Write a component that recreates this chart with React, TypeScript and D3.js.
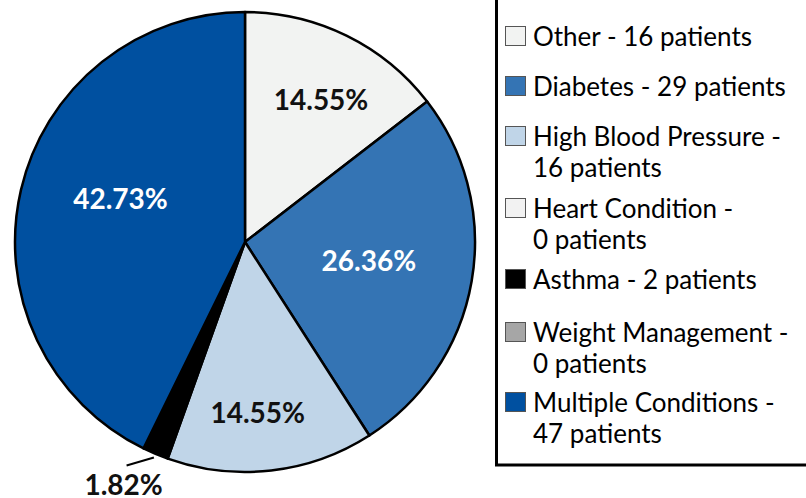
import React from "react";
import * as d3 from "d3";

const categories = [
  "Other",
  "Diabetes",
  "High Blood Pressure",
  "Heart Condition",
  "Asthma",
  "Weight Management",
  "Multiple Conditions",
];
const patients = [16, 29, 16, 0, 2, 0, 47];
const colors = ["#f2f3f2", "#3474b4", "#c0d5e8", "#f2f2f2", "#000000", "#a6a6a6", "#0050a0"];
const labelColors = ["#111", "#fff", "#111", "#111", "#111", "#111", "#fff"];
// legend wrap: whether "N patients" goes on a second line
const legendWrap = [false, false, true, true, false, true, true];

// label placement styles (radius fraction, angle offset in degrees)
const labelRadius = [0.7, 0.545, 0.745, 0, 0, 0, 0.573];
const labelAngleOffset = [2, -1.1, 2.3, 0, 0, 0, 6];

const W = 806;
const H = 498;
const cx = 245;
const cy = 242;
const R = 230;
const FONT = "Lato, 'Open Sans', sans-serif";

export default function App() {
  const total = d3.sum(patients);
  const pie = d3
    .pie<number>()
    .sort(null)
    .value((d) => d);
  const arcs = pie(patients);
  const arc = d3.arc<d3.PieArcDatum<number>>().innerRadius(0).outerRadius(R);
  const fmt = d3.format(".2%");

  const legendRows: { y: number; idx: number; lines: string[] }[] = [];
  const legendBaselines = [46, 96, 146, 218, 289, 342, 412];
  categories.forEach((c, i) => {
    const lines = legendWrap[i]
      ? [`${c} -`, `${patients[i]} patients`]
      : [`${c} - ${patients[i]} patients`];
    legendRows.push({ y: legendBaselines[i], idx: i, lines });
  });

  return (
    <svg
      width={W}
      height={H}
      style={{ position: "absolute", left: 0, top: 0, display: "block", background: "#fff" }}
      fontFamily={FONT}
    >
      <g transform={`translate(${cx},${cy})`}>
        {arcs.map((a, i) =>
          a.value > 0 ? (
            <path
              key={i}
              d={arc(a) || ""}
              fill={colors[i]}
              stroke="#000"
              strokeWidth={2.5}
              strokeLinejoin="round"
            />
          ) : null
        )}
        {arcs.map((a, i) => {
          if (a.value === 0) return null;
          const mid = (a.startAngle + a.endAngle) / 2;
          const txt = fmt(a.value / total);
          if (a.value / total < 0.05) {
            const p1r = R + 4;
            const p2r = R + 23;
            const ang = mid + (5 * Math.PI) / 180;
            const x1 = p1r * Math.sin(mid);
            const y1 = -p1r * Math.cos(mid);
            const x2 = p2r * Math.sin(ang);
            const y2 = -p2r * Math.cos(ang);
            return (
              <g key={"l" + i}>
                <line x1={x1} y1={y1} x2={x2} y2={y2} stroke="#000" strokeWidth={2} />
                <text
                  x={x2 - 3}
                  y={y2 + 29}
                  textAnchor="middle"
                  fontSize={28}
                  fontWeight="bold"
                  fill="#111"
                >
                  {txt}
                </text>
              </g>
            );
          }
          const ang = mid + (labelAngleOffset[i] * Math.PI) / 180;
          const r = labelRadius[i] * R;
          const x = r * Math.sin(ang);
          const y = -r * Math.cos(ang);
          return (
            <text
              key={"l" + i}
              x={x}
              y={y + 10}
              textAnchor="middle"
              fontSize={28}
              fontWeight="bold"
              fill={labelColors[i]}
            >
              {txt}
            </text>
          );
        })}
      </g>
      <rect x={496.5} y={-10} width={400} height={475} fill="none" stroke="#000" strokeWidth={3} />
      {legendRows.map((row) => (
        <g key={row.idx}>
          <rect
            x={505.5}
            y={row.y - 19.5}
            width={20}
            height={19}
            fill={colors[row.idx]}
            stroke="#555"
            strokeWidth={1}
          />
          {row.lines.map((ln, k) => (
            <text key={k} x={533} y={row.y + k * 31} fontSize={26} fill="#000">
              {ln}
            </text>
          ))}
        </g>
      ))}
    </svg>
  );
}
